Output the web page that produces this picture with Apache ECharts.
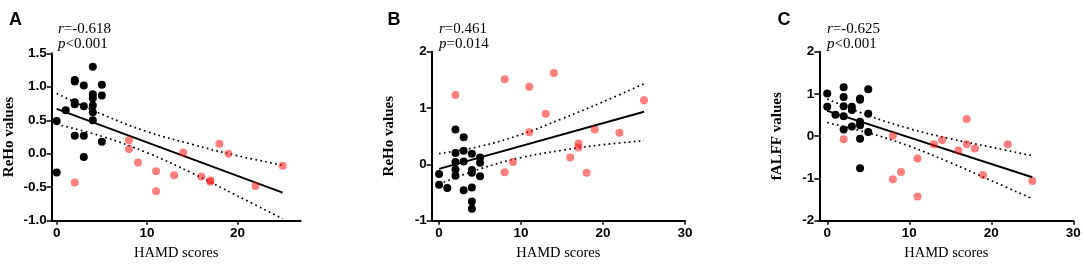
<!DOCTYPE html>
<html>
<head>
<meta charset="utf-8">
<script src="https://cdn.jsdelivr.net/npm/echarts@6/dist/echarts.min.js"></script>
<style>
  html, body { margin: 0; padding: 0; background: #fff; }
  #chart { width: 1084px; height: 266px; }
</style>
</head>
<body>
<div id="chart"></div>
<script>
// black = low HAMD group, red = high HAMD group, [HAMD, value]
const ctrlA = [[0,0.49],[0,-0.28],[1,0.65],[2,1.10],[2,1.08],[2,0.77],[2,0.74],[2,0.27],[3,1.02],[3,0.71],[3,0.27],[3,-0.05],[4,1.30],[4,0.89],[4,0.83],[4,0.72],[4,0.62],[4,0.50],[5,1.03],[5,0.87],[5,0.18]];
const patA = [[2,-0.43],[8,0.20],[8,0.07],[9,-0.13],[11,-0.26],[11,-0.56],[13,-0.32],[14,0.02],[16,-0.34],[17,-0.40],[17,-0.42],[18,0.15],[19,0.00],[22,-0.48],[25,-0.18]];

const ctrlB = [[0,-0.17],[0,-0.36],[1,-0.42],[2,0.62],[2,0.20],[2,0.04],[2,-0.09],[2,-0.20],[3,0.48],[3,0.24],[3,0.05],[3,-0.46],[4,0.19],[4,-0.10],[4,-0.15],[4,-0.41],[4,-0.66],[4,-0.79],[5,0.12],[5,0.03],[5,-0.21]];
const patB = [[2,1.23],[8,1.51],[8,-0.14],[9,0.04],[11,1.38],[11,0.57],[13,0.90],[14,1.62],[16,0.12],[17,0.37],[17,0.30],[18,-0.15],[19,0.62],[22,0.56],[25,1.14]];

const ctrlC = [[0,1.01],[0,0.70],[1,0.51],[2,1.16],[2,0.93],[2,0.71],[2,0.47],[2,0.16],[3,0.70],[3,0.62],[3,0.23],[4,0.89],[4,0.86],[4,0.34],[4,0.26],[4,-0.06],[4,-0.76],[5,1.11],[5,0.53],[5,0.10]];
const patC = [[2,-0.07],[8,0.01],[8,-1.02],[9,-0.85],[11,-0.53],[11,-1.43],[13,-0.19],[14,-0.09],[16,-0.34],[17,0.41],[17,-0.19],[18,-0.29],[19,-0.92],[22,-0.19],[25,-1.06]];

// regression line ends and 95% band
const fitX = [0, 25];
const fitA = [0.67, -0.58];
const fitB = [-0.08, 0.935];
const fitC = [0.60, -0.97];

const bandX = [0, 5, 10, 15, 20, 25];
const upA = [0.90, 0.59, 0.33, 0.14, -0.03, -0.17];
const loA = [0.44, 0.26, 0.015, -0.29, -0.63, -0.97];
const upB = [0.19, 0.32, 0.53, 0.81, 1.11, 1.43];
const loB = [-0.35, -0.08, 0.12, 0.25, 0.35, 0.42];
const upC = [0.88, 0.49, 0.18, -0.06, -0.26, -0.46];
const loC = [0.32, 0.08, -0.235, -0.625, -1.05, -1.48];

const statsA = ['r', '=-0.618', 'p', '<0.001'];
const statsB = ['r', '=0.461', 'p', '=0.014'];
const statsC = ['r', '=-0.625', 'p', '<0.001'];

const yTicksA = [-1, 1.5, 0.5];
const yTicksB = [-1, 2, 1];
const yTicksC = [-2, 2, 1];
const xTicksA = [0, 10, 20];
const xTicksBC = [0, 10, 20, 30];

const sans = 'Liberation Sans, Arial, sans-serif';
const serif = 'Liberation Serif, Times New Roman, serif';
const red = 'rgba(255,20,20,0.55)';

const panels = [
  { letter: 'A', stats: statsA, ctrl: ctrlA, pat: patA, fit: fitA, up: upA, lo: loA,
    yt: yTicksA, xt: xTicksA, xmin: -0.55, xmax: 27, yname: 'ReHo values', dec: 1,
    grid: { left: 51.7, top: 53.3, width: 249, height: 167.4 }, lx: 4, sx: 53 },
  { letter: 'B', stats: statsB, ctrl: ctrlB, pat: patB, fit: fitB, up: upB, lo: loB,
    yt: yTicksB, xt: xTicksBC, xmin: -0.9, xmax: 30, yname: 'ReHo values', dec: 0,
    grid: { left: 431.7, top: 51.7, width: 253.3, height: 169 }, lx: 382.5, sx: 434 },
  { letter: 'C', stats: statsC, ctrl: ctrlC, pat: patC, fit: fitC, up: upC, lo: loC,
    yt: yTicksC, xt: xTicksBC, xmin: -0.97, xmax: 30, yname: 'fALFF values', dec: 0,
    grid: { left: 819.3, top: 51.7, width: 254, height: 169 }, lx: 772.5, sx: 822 }
];

const grid = [], xAxis = [], yAxis = [], series = [], title = [];

panels.forEach(function (p, i) {
  grid.push(Object.assign({ outerBoundsMode: 'none', containLabel: false }, p.grid));

  xAxis.push({
    gridIndex: i, type: 'value', min: p.xmin, max: p.xmax,
    name: 'HAMD scores', nameLocation: 'middle', nameGap: 19,
    nameTextStyle: { fontFamily: serif, fontSize: 14.5, color: '#000' },
    splitLine: { show: false },
    axisLine: { onZero: false, lineStyle: { color: '#000', width: 2 } },
    axisTick: { customValues: p.xt, length: 4, lineStyle: { color: '#000', width: 1.5 } },
    axisLabel: { customValues: p.xt, margin: 6, color: '#000', fontFamily: sans,
      fontWeight: 'bold', fontSize: 13.5 }
  });

  yAxis.push({
    gridIndex: i, type: 'value', min: p.yt[0], max: p.yt[1], interval: p.yt[2],
    name: p.yname, nameLocation: 'middle', nameGap: 35,
    nameTextStyle: { fontFamily: serif, fontSize: 15, fontWeight: 'bold', color: '#000' },
    splitLine: { show: false },
    axisLine: { show: true, onZero: false, lineStyle: { color: '#000', width: 2 } },
    axisTick: { show: true, length: 5, lineStyle: { color: '#000', width: 1.5 } },
    axisLabel: { margin: 5, color: '#000', fontFamily: sans, fontWeight: 'bold',
      fontSize: 13.5, formatter: function (v) { return v.toFixed(p.dec); } }
  });

  const dotted = { color: '#000', width: 1.7, type: [1.7, 3.3] };
  [p.up, p.lo].forEach(function (arr) {
    series.push({
      type: 'line', xAxisIndex: i, yAxisIndex: i, smooth: 0.4, symbol: 'none', z: 2,
      silent: true, lineStyle: dotted,
      data: bandX.map(function (x, k) { return [x, arr[k]]; })
    });
  });
  series.push({
    type: 'line', xAxisIndex: i, yAxisIndex: i, symbol: 'none', z: 2, silent: true,
    lineStyle: { color: '#000', width: 2 },
    data: fitX.map(function (x, k) { return [x, p.fit[k]]; })
  });
  series.push({
    type: 'scatter', xAxisIndex: i, yAxisIndex: i, symbolSize: 8, z: 3,
    itemStyle: { color: '#000', opacity: 1 }, data: p.ctrl
  });
  series.push({
    type: 'scatter', xAxisIndex: i, yAxisIndex: i, symbolSize: 8, z: 4,
    itemStyle: { color: red, opacity: 1 }, data: p.pat
  });

  title.push({
    text: p.letter, left: p.lx, top: 6,
    textStyle: { fontFamily: sans, fontWeight: 'bold', fontSize: 18, color: '#000' }
  });
  title.push({
    text: '{i|' + p.stats[0] + '}{n|' + p.stats[1] + '}\n{i|' + p.stats[2] + '}{n|' + p.stats[3] + '}',
    left: p.sx, top: 17,
    textStyle: {
      fontFamily: serif, fontSize: 15, fontWeight: 'normal', color: '#000', lineHeight: 15,
      rich: {
        i: { fontFamily: serif, fontSize: 15, fontStyle: 'italic', color: '#000', lineHeight: 15 },
        n: { fontFamily: serif, fontSize: 15, color: '#000', lineHeight: 15 }
      }
    }
  });
});

const chart = echarts.init(document.getElementById('chart'));
chart.setOption({
  backgroundColor: '#fff',
  animation: false,
  title: title,
  grid: grid,
  xAxis: xAxis,
  yAxis: yAxis,
  series: series
});
</script>
</body>
</html>
